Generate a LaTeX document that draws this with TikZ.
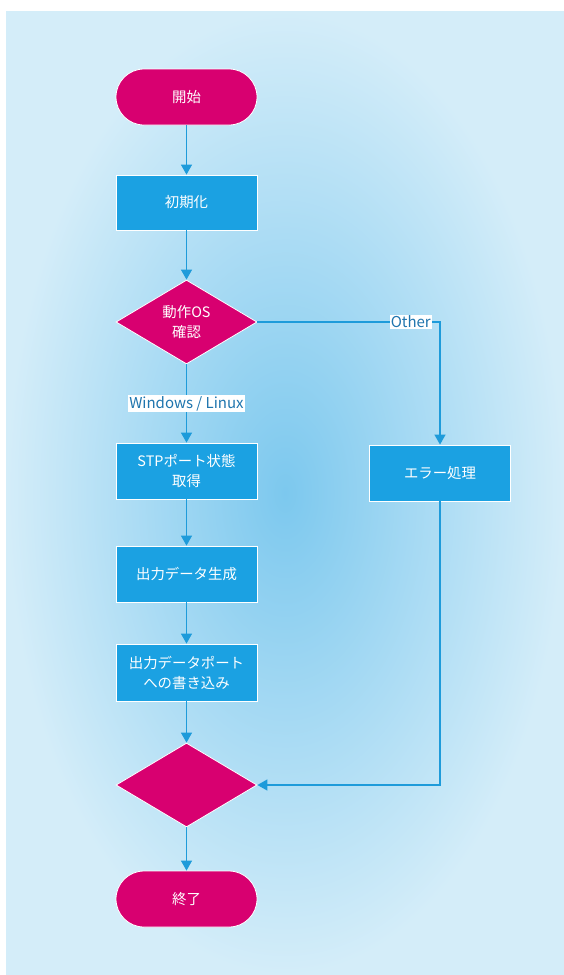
\documentclass[tikz,border=0pt]{standalone}
\usepackage{fontspec}
\setmainfont{Noto Sans CJK JP}
\usetikzlibrary{shapes.geometric,arrows.meta}
\definecolor{bgin}{HTML}{7CC8EE}
\definecolor{bgout}{HTML}{D4EDF9}
\definecolor{mag}{HTML}{D80070}
\definecolor{boxblue}{HTML}{1BA1E2}
\definecolor{lineblue}{HTML}{1E9BDA}
\definecolor{lbltext}{HTML}{1F75AE}
\tikzset{
  base/.style={draw=white, line width=0.8pt, text=white, align=center, inner sep=2pt,
    font=\fontsize{14.4}{20}\selectfont},
  term/.style={base, fill=mag, rectangle, rounded corners=28pt, minimum width=141pt, minimum height=56pt},
  proc/.style={base, fill=boxblue, rectangle, minimum width=141pt, minimum height=56pt},
  dec/.style={base, fill=mag, diamond, inner sep=0pt, minimum width=141pt, minimum height=84pt},
  conn/.style={draw=lineblue, line width=1.3pt, -{Triangle[length=10pt,width=11pt]}},
  lbl/.style={fill=white, text=lbltext, inner sep=1pt, font=\fontsize{15}{17}\selectfont}
}
\begin{document}
\begin{tikzpicture}[x=1pt,y=-1pt]
\useasboundingbox (0,0) rectangle (564,975);
\fill[white] (0,0) rectangle (564,975);
\shade[inner color=bgin, outer color=bgout] (6,11) rectangle (564,975);
\node[term] (start) at (186.5,97) {開始};
\node[proc, minimum height=55pt] (init) at (186.5,202.5) {初期化};
\node[dec] (dec1) at (186.5,322) {動作OS\\確認};
\node[proc] (stp) at (186.5,471) {STPポート状態\\取得};
\node[proc] (err) at (440,473) {エラー処理};
\node[proc] (gen) at (186.5,574) {出力データ生成};
\node[proc, minimum height=57pt] (wr) at (186.5,672.5) {出力データポート\\への書き込み};
\node[dec] (dec2) at (186.5,785) {};
\node[term] (end) at (186.5,899) {終了};
\draw[conn] (start) -- (init);
\draw[conn] (init) -- (dec1);
\draw[conn] (dec1) -- node[lbl] {Windows / Linux} (stp);
\draw[conn] (dec1.east) -| node[lbl, pos=0.42] {Other} (err.north);
\draw[conn] (stp) -- (gen);
\draw[conn] (gen) -- (wr);
\draw[conn] (wr) -- (dec2);
\draw[conn] (err.south) |- (dec2.east);
\draw[conn] (dec2) -- (end);
\end{tikzpicture}
\end{document}
